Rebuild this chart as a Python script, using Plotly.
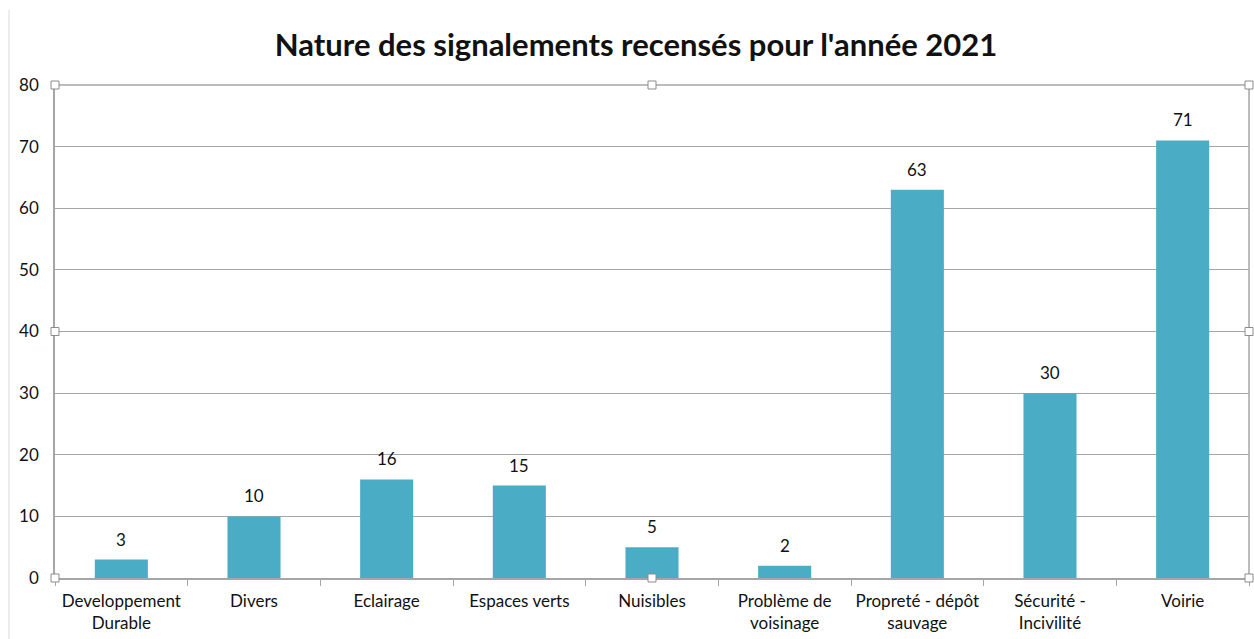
import plotly.graph_objects as go

categories = ["Developpement<br>Durable", "Divers", "Eclairage", "Espaces verts", "Nuisibles",
              "Problème de<br>voisinage", "Propreté - dépôt<br>sauvage", "Sécurité -<br>Incivilité", "Voirie"]
values = [3, 10, 16, 15, 5, 2, 63, 30, 71]
y_ticks = [0, 10, 20, 30, 40, 50, 60, 70, 80]

FONT = "Lato, 'Open Sans', sans-serif"
GRID = "#a6a6a6"

W, H = 1254, 639
L, R, T, B = 55, 5, 85, 61
PW, PH = W - L - R, H - T - B

fig = go.Figure(go.Bar(
    x=categories, y=values,
    marker=dict(color="#4BACC6", line=dict(width=0)),
    hoverinfo="x+y",
))
for c, v in zip(categories, values):
    fig.add_annotation(x=c, y=v, text=str(v), showarrow=False, yanchor="bottom", yshift=8,
                       font=dict(size=17, color="#111111", family=FONT))

fig.update_layout(
    width=W, height=H,
    margin=dict(l=L, r=R, t=T, b=B, autoexpand=False),
    paper_bgcolor="white", plot_bgcolor="white",
    bargap=0.6,
    showlegend=False,
    title=dict(text="<b>Nature des signalements recensés pour l'année 2021</b>",
               x=636 / W, xref="container", xanchor="center", y=1 - 45 / H, yanchor="middle",
               font=dict(size=31, color="#111111", family=FONT)),
    font=dict(family=FONT, size=17, color="#111111"),
)
fig.update_xaxes(showline=True, linecolor=GRID, linewidth=1.5, automargin=False,
                 ticks="outside", tickson="boundaries", ticklen=6, tickcolor=GRID,
                 ticklabelstandoff=7, tickfont=dict(size=17), showgrid=False)
fig.update_yaxes(range=[0, 80], tickvals=y_ticks, showgrid=True, gridcolor=GRID, gridwidth=1.2,
                 showline=True, linecolor=GRID, linewidth=1.5, ticks="", ticklabelstandoff=11,
                 tickfont=dict(size=17), zeroline=False, automargin=False)

# top and right border of plot area
fig.add_shape(type="line", xref="paper", yref="paper", x0=1, x1=1, y0=0, y1=1,
              line=dict(color=GRID, width=1.5))
fig.add_shape(type="line", xref="paper", yref="paper", x0=0, x1=1, y0=1, y1=1,
              line=dict(color=GRID, width=1.5))
# outer left frame line
fig.add_shape(type="line", xref="paper", yref="paper", x0=(9 - L) / PW, x1=(9 - L) / PW,
              y0=-B / PH, y1=(PH + T - 10) / PH, line=dict(color="#d9d9d9", width=1))
# selection handles
for hx, hy in [(0, 0), (0.5, 0), (1, 0), (0, 0.5), (1, 0.5), (0, 1), (0.5, 1), (1, 1)]:
    fig.add_shape(type="rect", xref="paper", yref="paper", xsizemode="pixel", ysizemode="pixel",
                  xanchor=hx, yanchor=hy, x0=-4, x1=4, y0=-4, y1=4,
                  line=dict(color="#8c8c8c", width=1), fillcolor="white")

fig.write_html("out.html", config={"displayModeBar": False},
               post_script="document.body.style.margin='0';document.body.style.overflow='hidden';")
